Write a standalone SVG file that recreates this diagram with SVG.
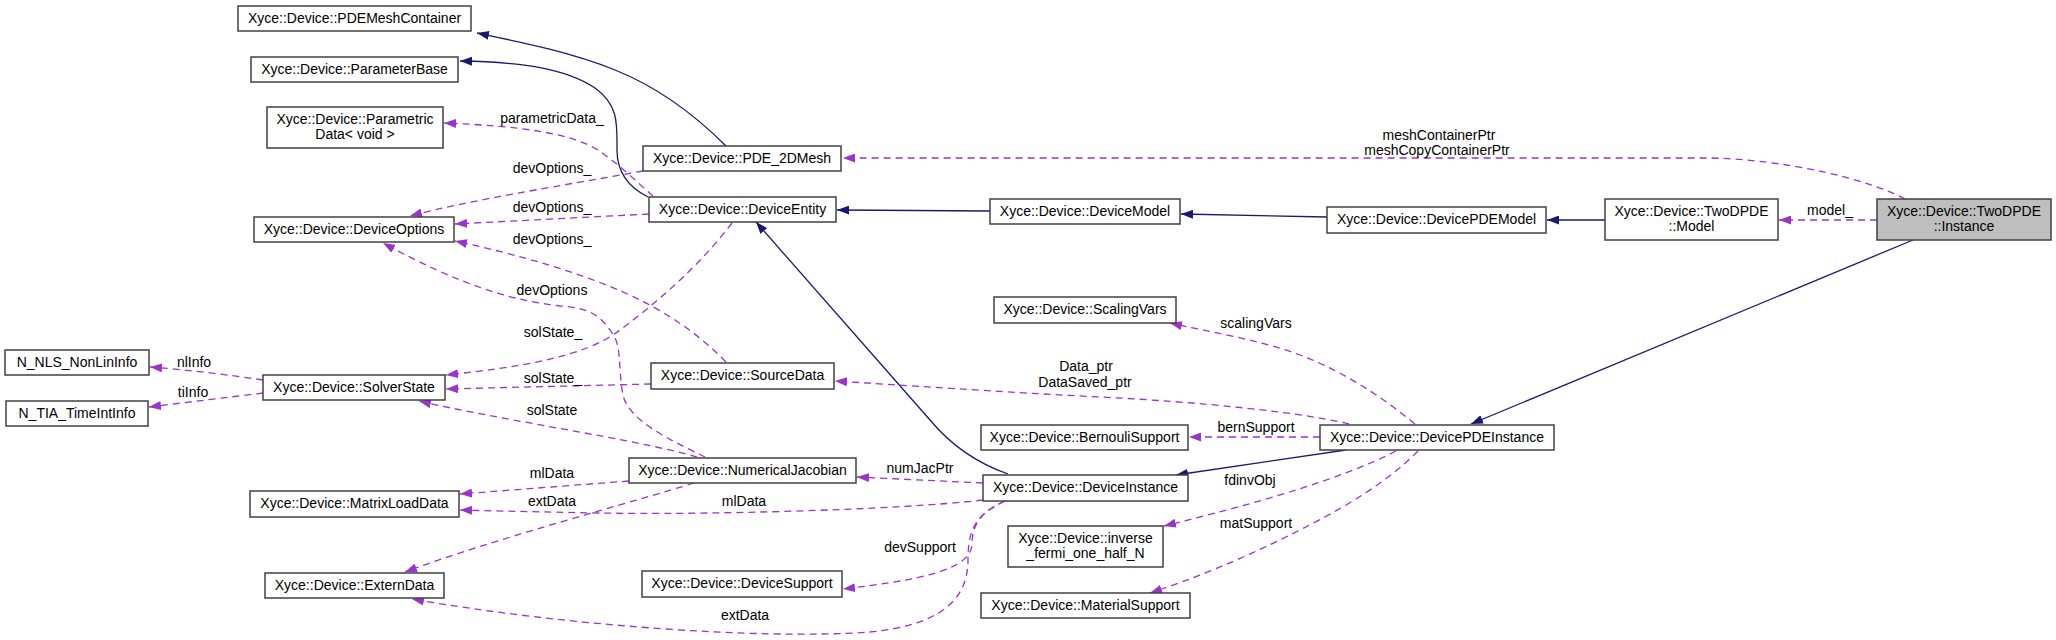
<svg xmlns="http://www.w3.org/2000/svg" width="2056" height="640" viewBox="0 0 2056 640">
<style>
.n rect{fill:#ffffff;stroke:#404040;stroke-width:1.5}
.n.cur rect{fill:#bfbfbf}
text{font-family:"Liberation Sans",Arial,sans-serif;font-size:14px;fill:#000;text-anchor:middle}
.inh{fill:none;stroke:#191970;stroke-width:1.3;marker-end:url(#an)}
.use{fill:none;stroke:#9a32cd;stroke-width:1.3;stroke-dasharray:7,5;marker-end:url(#ap)}
</style>
<defs>
<marker id="an" viewBox="0 0 12 9" refX="12" refY="4.5" markerWidth="12" markerHeight="9" markerUnits="userSpaceOnUse" orient="auto"><path d="M0,0 L12,4.5 L0,9 z" fill="#191970" stroke="none"/></marker>
<marker id="ap" viewBox="0 0 12 9" refX="12" refY="4.5" markerWidth="12" markerHeight="9" markerUnits="userSpaceOnUse" orient="auto"><path d="M0,0 L12,4.5 L0,9 z" fill="#9a32cd" stroke="none"/></marker>
</defs>
<rect width="2056" height="640" fill="#ffffff"/>
<g id="edges">
<path class="inh" d="M726,146 C695,115 660,88 615,70 C570,52 520,42 477,33"/>
<path class="inh" d="M648,197 C628,187 617,172 617,150 C617,125 619,105 595,88 C565,68 520,62 460,61"/>
<path class="inh" d="M990,211 L837,210"/>
<path class="inh" d="M1327,217 L1181,214"/>
<path class="inh" d="M1605,220 L1547,220"/>
<path class="inh" d="M1008,474 C985,466 955,450 930,420 L756,222"/>
<path class="inh" d="M1346,450 L1176,475"/>
<path class="inh" d="M1913,240 L1471,424"/>
<path class="use" d="M1905,199 C1870,180 1790,160 1711,158 L843,158"/>
<path class="use" d="M1877,220 L1779,220"/>
<path class="use" d="M643,171 C560,186 470,200 410,216"/>
<path class="use" d="M649,214 L455,224"/>
<path class="use" d="M653,196 C638,183 620,165 598,150 C570,133 520,126 444,123"/>
<path class="use" d="M732,223 C700,265 660,300 620,330 C585,357 520,367 446,375"/>
<path class="use" d="M726,362 C700,335 670,315 640,300 C590,275 520,255 455,241"/>
<path class="use" d="M651,384 L446,389"/>
<path class="use" d="M705,457 C670,440 628,420 623,395 C618,370 622,345 612,333 C600,315 590,308 560,306 C510,300 460,285 383,243"/>
<path class="use" d="M697,457 C640,440 500,420 419,401"/>
<path class="use" d="M263,380 C230,375 190,370 150,367"/>
<path class="use" d="M263,393 C230,397 190,402 149,407"/>
<path class="use" d="M629,481 L460,494"/>
<path class="use" d="M694,483 C640,500 490,540 405,572"/>
<path class="use" d="M983,483 L857,477"/>
<path class="use" d="M983,500 C900,510 700,515 600,513 C540,512 500,511 460,510"/>
<path class="use" d="M1005,501 C980,512 972,525 972,545 C970,570 920,580 843,589"/>
<path class="use" d="M1005,501 C975,515 968,530 968,560 C968,600 940,625 870,632 C760,640 560,625 412,599"/>
<path class="use" d="M1415,424 C1380,395 1340,370 1300,355 C1260,340 1210,332 1170,323"/>
<path class="use" d="M1349,424 C1300,412 1200,402 1100,397 C1000,392 900,385 835,381"/>
<path class="use" d="M1320,437 L1189,437"/>
<path class="use" d="M1396,451 C1340,480 1250,505 1164,526"/>
<path class="use" d="M1418,451 C1380,490 1320,520 1290,535 C1240,560 1190,580 1150,593"/>
<text x="552" y="123">parametricData_</text>
<text x="552" y="173">devOptions_</text>
<text x="552" y="212">devOptions_</text>
<text x="552" y="244">devOptions_</text>
<text x="552" y="295">devOptions</text>
<text x="553" y="337">solState_</text>
<text x="553" y="383">solState_</text>
<text x="552" y="415">solState</text>
<text x="194" y="367">nlInfo</text>
<text x="193" y="397">tiInfo</text>
<text x="552" y="478">mlData</text>
<text x="552" y="506">extData</text>
<text x="920" y="473">numJacPtr</text>
<text x="744" y="506">mlData</text>
<text x="920" y="552">devSupport</text>
<text x="745" y="620">extData</text>
<text x="1256" y="432">bernSupport</text>
<text x="1250" y="485">fdinvObj</text>
<text x="1256" y="528">matSupport</text>
<text x="1256" y="328">scalingVars</text>
<text x="1086" y="371">Data_ptr</text>
<text x="1085" y="387">DataSaved_ptr</text>
<text x="1439" y="140">meshContainerPtr</text>
<text x="1437" y="155">meshCopyContainerPtr</text>
<text x="1830" y="215">model_</text>
</g>
<g id="PDEMeshContainer" class="n"><rect x="238" y="6" width="233" height="25"/><text x="354.5" y="23">Xyce::Device::PDEMeshContainer</text></g>
<g id="ParameterBase" class="n"><rect x="251" y="57" width="207" height="25"/><text x="354.5" y="74">Xyce::Device::ParameterBase</text></g>
<g id="ParametricData" class="n"><rect x="267" y="107" width="176" height="41"/><text x="355" y="124">Xyce::Device::Parametric</text><text x="355" y="139">Data&lt; void &gt;</text></g>
<g id="PDE_2DMesh" class="n"><rect x="643" y="146" width="198" height="25"/><text x="742" y="163">Xyce::Device::PDE_2DMesh</text></g>
<g id="DeviceEntity" class="n"><rect x="649" y="197" width="187" height="25"/><text x="742.5" y="214">Xyce::Device::DeviceEntity</text></g>
<g id="DeviceModel" class="n"><rect x="990" y="199" width="190" height="25"/><text x="1085" y="216">Xyce::Device::DeviceModel</text></g>
<g id="DevicePDEModel" class="n"><rect x="1327" y="207" width="219" height="26"/><text x="1436.5" y="224">Xyce::Device::DevicePDEModel</text></g>
<g id="TwoDPDEModel" class="n"><rect x="1605" y="199" width="173" height="41"/><text x="1691.5" y="216">Xyce::Device::TwoDPDE</text><text x="1691.5" y="231">::Model</text></g>
<g id="TwoDPDEInstance" class="n cur"><rect x="1877" y="199" width="174" height="41"/><text x="1964" y="216">Xyce::Device::TwoDPDE</text><text x="1964" y="231">::Instance</text></g>
<g id="DeviceOptions" class="n"><rect x="254" y="217" width="200" height="25"/><text x="354" y="234">Xyce::Device::DeviceOptions</text></g>
<g id="NonLinInfo" class="n"><rect x="5" y="350" width="144" height="25"/><text x="77" y="367">N_NLS_NonLinInfo</text></g>
<g id="SolverState" class="n"><rect x="263" y="375" width="182" height="25"/><text x="354" y="392">Xyce::Device::SolverState</text></g>
<g id="TimeIntInfo" class="n"><rect x="6" y="401" width="142" height="25"/><text x="77" y="418">N_TIA_TimeIntInfo</text></g>
<g id="SourceData" class="n"><rect x="651" y="363" width="183" height="26"/><text x="742.5" y="380">Xyce::Device::SourceData</text></g>
<g id="ScalingVars" class="n"><rect x="994" y="297" width="182" height="26"/><text x="1085" y="314">Xyce::Device::ScalingVars</text></g>
<g id="MatrixLoadData" class="n"><rect x="250" y="491" width="209" height="26"/><text x="354.5" y="508">Xyce::Device::MatrixLoadData</text></g>
<g id="ExternData" class="n"><rect x="265" y="573" width="179" height="25"/><text x="354.5" y="590">Xyce::Device::ExternData</text></g>
<g id="BernoulliSupport" class="n"><rect x="981" y="425" width="207" height="25"/><text x="1084.5" y="442">Xyce::Device::BernouliSupport</text></g>
<g id="NumericalJacobian" class="n"><rect x="629" y="458" width="227" height="25"/><text x="742.5" y="475">Xyce::Device::NumericalJacobian</text></g>
<g id="DeviceInstance" class="n"><rect x="983" y="475" width="205" height="26"/><text x="1085.5" y="492">Xyce::Device::DeviceInstance</text></g>
<g id="InverseFermi" class="n"><rect x="1008" y="526" width="155" height="41"/><text x="1085.5" y="543">Xyce::Device::inverse</text><text x="1085.5" y="558">_fermi_one_half_N</text></g>
<g id="DeviceSupport" class="n"><rect x="642" y="571" width="200" height="26"/><text x="742" y="588">Xyce::Device::DeviceSupport</text></g>
<g id="MaterialSupport" class="n"><rect x="981" y="593" width="209" height="25"/><text x="1085.5" y="610">Xyce::Device::MaterialSupport</text></g>
<g id="DevicePDEInstance" class="n"><rect x="1320" y="425" width="234" height="25"/><text x="1437" y="442">Xyce::Device::DevicePDEInstance</text></g>
</svg>
